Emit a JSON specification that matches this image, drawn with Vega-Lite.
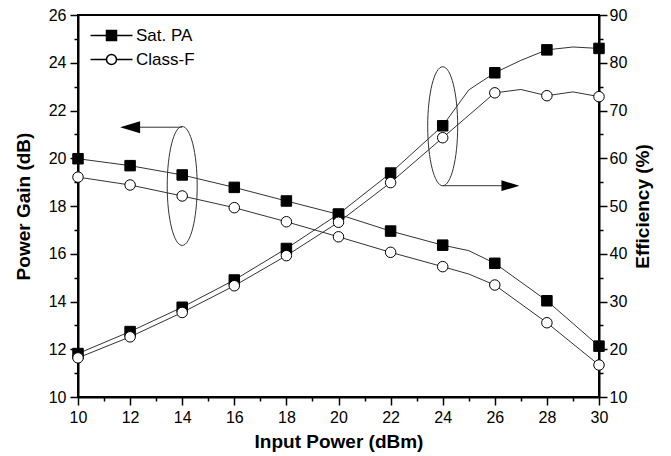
{
  "$schema": "https://vega.github.io/schema/vega-lite/v6.json",
  "width": 521,
  "height": 382,
  "autosize": {"type": "none"},
  "padding": {"left": 78, "top": 15, "right": 72, "bottom": 59},
  "background": "white",
  "config": {
    "font": "Liberation Sans",
    "view": {"stroke": "black", "strokeWidth": 2},
    "axis": {
      "grid": false,
      "domainColor": "black",
      "domainWidth": 2,
      "tickColor": "black",
      "tickWidth": 1.5,
      "labelColor": "black",
      "labelFont": "Liberation Sans",
      "labelFontSize": 16,
      "labelFlush": false,
      "labelOverlap": false,
      "labelBound": false,
      "titleColor": "black",
      "titleFont": "Liberation Sans",
      "titleFontSize": 19,
      "titleFontWeight": "bold"
    },
    "legend": {"labelFont": "Liberation Sans", "labelFontSize": 17, "labelColor": "black"}
  },
  "datasets": {
    "perf": [
      {"p": 10, "series": "Sat. PA", "gain": 19.98, "eff": 19.1},
      {"p": 12, "series": "Sat. PA", "gain": 19.69, "eff": 23.7},
      {"p": 14, "series": "Sat. PA", "gain": 19.30, "eff": 28.8},
      {"p": 16, "series": "Sat. PA", "gain": 18.78, "eff": 34.5},
      {"p": 18, "series": "Sat. PA", "gain": 18.21, "eff": 41.1},
      {"p": 20, "series": "Sat. PA", "gain": 17.65, "eff": 48.3},
      {"p": 22, "series": "Sat. PA", "gain": 16.95, "eff": 56.9},
      {"p": 24, "series": "Sat. PA", "gain": 16.36, "eff": 66.8},
      {"p": 25, "series": "Sat. PA", "gain": 16.13, "eff": 74.3},
      {"p": 26, "series": "Sat. PA", "gain": 15.60, "eff": 77.9},
      {"p": 27, "series": "Sat. PA", "gain": null, "eff": 80.5},
      {"p": 28, "series": "Sat. PA", "gain": 14.03, "eff": 82.7},
      {"p": 29, "series": "Sat. PA", "gain": null, "eff": 83.3},
      {"p": 30, "series": "Sat. PA", "gain": 12.13, "eff": 83.0},
      {"p": 10, "series": "Class-F", "gain": 19.21, "eff": 18.2},
      {"p": 12, "series": "Class-F", "gain": 18.88, "eff": 22.6},
      {"p": 14, "series": "Class-F", "gain": 18.42, "eff": 27.7},
      {"p": 16, "series": "Class-F", "gain": 17.93, "eff": 33.3},
      {"p": 18, "series": "Class-F", "gain": 17.34, "eff": 39.6},
      {"p": 20, "series": "Class-F", "gain": 16.71, "eff": 46.6},
      {"p": 22, "series": "Class-F", "gain": 16.06, "eff": 54.9},
      {"p": 24, "series": "Class-F", "gain": 15.46, "eff": 64.3},
      {"p": 25, "series": "Class-F", "gain": 15.15, "eff": 69.0},
      {"p": 26, "series": "Class-F", "gain": 14.69, "eff": 73.7},
      {"p": 27, "series": "Class-F", "gain": null, "eff": 74.4},
      {"p": 28, "series": "Class-F", "gain": 13.11, "eff": 73.1},
      {"p": 29, "series": "Class-F", "gain": null, "eff": 73.9},
      {"p": 30, "series": "Class-F", "gain": 11.34, "eff": 72.9}
    ],
    "gainNote": [{"p": 14, "gain": 18.84}],
    "gainArrow": [{"p": 12, "p2": 14, "gain": 21.3}],
    "effNote": [{"p": 24, "eff": 66.7}],
    "effArrow": [{"p": 24, "p2": 26.6, "eff": 54.25}]
  },
  "encoding": {
    "x": {
      "field": "p",
      "type": "quantitative",
      "scale": {"domain": [10, 30], "nice": false, "zero": false},
      "axis": {
        "title": "Input Power (dBm)",
        "values": [10,11,12,13,14,15,16,17,18,19,20,21,22,23,24,25,26,27,28,29,30],
        "labelExpr": "datum.value % 2 == 0 ? datum.label : ''",
        "tickSize": {"condition": {"test": "datum.value % 2 != 0", "value": 4}, "value": 8},
        "labelPadding": 4,
        "titlePadding": 7
      }
    }
  },
  "layer": [
    {
      "encoding": {
        "y": {
          "field": "gain",
          "type": "quantitative",
          "scale": {"domain": [10, 26], "nice": false, "zero": false},
          "axis": {
            "orient": "left",
            "title": "Power Gain (dB)",
            "values": [10,11,12,13,14,15,16,17,18,19,20,21,22,23,24,25,26],
            "labelExpr": "datum.value % 2 == 0 ? datum.label : ''",
            "tickSize": {"condition": {"test": "datum.value % 2 != 0", "value": 4}, "value": 8},
            "labelPadding": 4,
            "titlePadding": 15
          }
        }
      },
      "layer": [
        {
          "data": {"name": "perf"},
          "transform": [{"filter": "isValid(datum.gain)"}],
          "mark": {"type": "line", "color": "#333333", "strokeWidth": 1},
          "encoding": {"detail": {"field": "series"}}
        },
        {
          "data": {"name": "perf"},
          "transform": [{"filter": "isValid(datum.gain) && datum.p % 2 == 0"}],
          "mark": {"type": "point", "stroke": "black", "strokeWidth": 1, "size": 110, "opacity": 1, "fillOpacity": 1},
          "encoding": {
            "shape": {"field": "series", "type": "nominal", "scale": {"domain": ["Sat. PA", "Class-F"], "range": ["square", "circle"]}, "legend": null},
            "fill": {"field": "series", "type": "nominal", "scale": {"domain": ["Sat. PA", "Class-F"], "range": ["black", "white"]}, "legend": null}
          }
        },
        {
          "data": {"name": "gainNote"},
          "mark": {"type": "point", "shape": "M-0.252,0A0.252,1 0 1,0 0.252,0A0.252,1 0 1,0 -0.252,0Z", "size": 14161, "filled": false, "stroke": "#333333", "strokeWidth": 1, "opacity": 1}
        },
        {
          "data": {"name": "gainArrow"},
          "mark": {"type": "rule", "color": "#333333", "strokeWidth": 1},
          "encoding": {"x2": {"field": "p2"}}
        },
        {
          "data": {"name": "gainArrow"},
          "mark": {"type": "point", "shape": "M-1,0L1,-0.6L1,0.6Z", "size": 400, "filled": true, "color": "black", "opacity": 1}
        }
      ]
    },
    {
      "encoding": {
        "y": {
          "field": "eff",
          "type": "quantitative",
          "scale": {"domain": [10, 90], "nice": false, "zero": false},
          "axis": {
            "orient": "right",
            "title": "Efficiency (%)",
            "titleAngle": 270,
            "titleBaseline": "top",
            "values": [10,15,20,25,30,35,40,45,50,55,60,65,70,75,80,85,90],
            "labelExpr": "datum.value % 10 == 0 ? datum.label : ''",
            "tickSize": {"condition": {"test": "datum.value % 10 != 0", "value": 4}, "value": 8},
            "labelPadding": 2,
            "titlePadding": 7
          }
        }
      },
      "layer": [
        {
          "data": {"name": "perf"},
          "mark": {"type": "line", "color": "#333333", "strokeWidth": 1},
          "encoding": {"detail": {"field": "series"}}
        },
        {
          "data": {"name": "perf"},
          "transform": [{"filter": "datum.p % 2 == 0"}],
          "mark": {"type": "point", "stroke": "black", "strokeWidth": 1, "size": 110, "opacity": 1, "fillOpacity": 1},
          "encoding": {
            "shape": {"field": "series", "type": "nominal", "scale": {"domain": ["Sat. PA", "Class-F"], "range": ["square", "circle"]}, "legend": null},
            "fill": {"field": "series", "type": "nominal", "scale": {"domain": ["Sat. PA", "Class-F"], "range": ["black", "white"]}, "legend": null}
          }
        },
        {
          "data": {"name": "effNote"},
          "mark": {"type": "point", "shape": "M-0.252,0A0.252,1 0 1,0 0.252,0A0.252,1 0 1,0 -0.252,0Z", "size": 14161, "filled": false, "stroke": "#333333", "strokeWidth": 1, "opacity": 1}
        },
        {
          "data": {"name": "effArrow"},
          "mark": {"type": "rule", "color": "#333333", "strokeWidth": 1},
          "encoding": {"x2": {"field": "p2"}}
        },
        {
          "data": {"name": "effArrow"},
          "mark": {"type": "point", "shape": "M1,0L-1,-0.6L-1,0.6Z", "size": 324, "filled": true, "color": "black", "opacity": 1},
          "encoding": {"x": {"field": "p2", "type": "quantitative"}}
        }
      ]
    },
    {
      "data": {"name": "perf"},
      "transform": [{"filter": "false"}],
      "mark": {"type": "point", "stroke": "black", "strokeWidth": 1, "size": 100, "opacity": 1, "fillOpacity": 1},
      "encoding": {
        "shape": {
          "field": "series", "type": "nominal",
          "scale": {"domain": ["Sat. PA", "Class-F"], "range": ["M-4.2,0H4.2M-1,-1H1V1H-1Z", "M-4.2,0H-1M1,0H4.2M-1,0A1,1 0 1,0 1,0A1,1 0 1,0 -1,0Z"]},
          "legend": {"title": null, "orient": "none", "legendX": 25, "legendY": 12, "padding": 0, "symbolSize": 100, "labelOffset": 16, "rowPadding": 6, "labelLimit": 300}
        },
        "fill": {
          "field": "series", "type": "nominal",
          "scale": {"domain": ["Sat. PA", "Class-F"], "range": ["black", "white"]},
          "legend": {"title": null, "orient": "none", "legendX": 25, "legendY": 12, "padding": 0, "symbolSize": 100, "labelOffset": 16, "rowPadding": 6, "labelLimit": 300}
        }
      }
    }
  ],
  "resolve": {"scale": {"y": "independent", "shape": "independent", "fill": "independent"}}
}
